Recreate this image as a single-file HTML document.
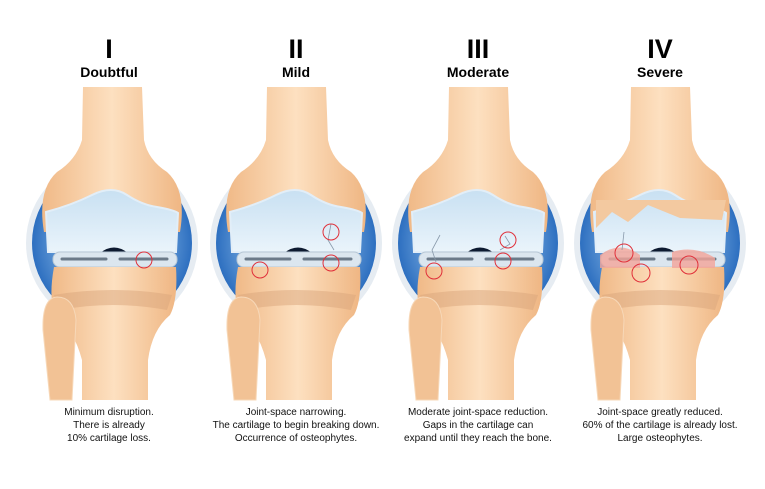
<!DOCTYPE html>
<html><head><meta charset="utf-8"><style>
body{margin:0;background:#fff;width:765px;height:489px;overflow:hidden;font-family:"Liberation Sans",sans-serif}
svg{position:absolute;left:0;top:0}
</style></head><body>
<svg width="765" height="489" viewBox="0 0 765 489">
<defs>
<radialGradient id="blue" cx="0.5" cy="0.5" r="0.5"><stop offset="0.6" stop-color="#6ea3db"/><stop offset="1" stop-color="#2d6fc0"/></radialGradient>
<linearGradient id="bone" x1="0" x2="1"><stop offset="0" stop-color="#f0b987"/><stop offset="0.5" stop-color="#fde0c0"/><stop offset="1" stop-color="#efb683"/></linearGradient>
<linearGradient id="cart" x1="0" y1="0" x2="0" y2="1"><stop offset="0" stop-color="#c8e0f2"/><stop offset="1" stop-color="#eaf4fb"/></linearGradient>
<g id="knee">
<circle cx="0" cy="243" r="86" fill="#e6ecf2"/>
<circle cx="0" cy="243" r="80" fill="url(#blue)"/>
<path d="M-29,87 L30,87 L32,140 Q36,160 55,172 Q75,190 68,232 L-68,232 Q-75,190 -55,172 Q-36,160 -30,140 Z" fill="url(#bone)"/>
<path d="M-66,212 Q-40,205 -20,195 Q0,185 15,195 Q30,205 45,207 Q62,210 66,213 L64,252 L-64,252 Z" fill="url(#cart)" stroke="#e2eef8" stroke-width="2"/>
<path d="M-12,253 Q2,242 16,253 Z" fill="#0d1a30"/>
<rect x="-59" y="252" width="124" height="15" rx="7" fill="#dbe6ef" stroke="#b8c8d6"/>
<path d="M-50,259 L-6,259 M8,259 L55,259" stroke="#6b7a89" stroke-width="3" stroke-linecap="round"/>
<path d="M-58,267 L64,267 Q66,300 58,315 Q40,330 36,360 L36,400 L-30,400 L-30,360 Q-38,330 -56,315 Q-64,300 -58,267 Z" fill="url(#bone)"/>
<path d="M-58,295 Q0,285 60,295 L55,310 Q0,300 -52,310 Z" fill="#d9a67c" opacity="0.5"/>
<path d="M-69,330 Q-70,298 -55,297 Q-38,297 -36,320 L-40,400 L-62,400 Z" fill="#f2c295" stroke="#f7d8b8"/>
</g>
</defs>
<g font-family="Liberation Sans,sans-serif" font-weight="bold" text-anchor="middle" fill="#000">
<text x="109" y="58" font-size="27">I</text><text x="109" y="77" font-size="14">Doubtful</text>
<text x="296" y="58" font-size="27">II</text><text x="296" y="77" font-size="14">Mild</text>
<text x="478" y="58" font-size="27">III</text><text x="478" y="77" font-size="14">Moderate</text>
<text x="660" y="58" font-size="27">IV</text><text x="660" y="77" font-size="14">Severe</text>
</g>
<use href="#knee" x="112"/>
<use href="#knee" x="296"/>
<use href="#knee" x="478"/>
<use href="#knee" x="660"/>
<g fill="#f4a59a" opacity="0.8">
<path d="M600,255 Q620,240 640,255 L640,268 L600,268 Z"/><path d="M672,252 Q695,245 715,258 L715,268 L672,268 Z"/>
</g>
<path d="M596,228 L612,212 L628,222 L648,205 L680,218 L722,220 L726,200 L596,200 Z" fill="#f3c9a0"/>
<g fill="none" stroke="#8899aa" stroke-width="0.8">
<path d="M331,224 L328,240 L334,250"/><path d="M505,236 L510,244 L500,250"/><path d="M440,235 L432,250 L436,262"/><path d="M624,232 L622,250"/>
</g>
<g fill="none" stroke="#e0303a" stroke-width="1">
<circle cx="144" cy="260" r="8"/>
<circle cx="331" cy="232" r="8"/><circle cx="331" cy="263" r="8"/><circle cx="260" cy="270" r="8"/>
<circle cx="508" cy="240" r="8"/><circle cx="503" cy="261" r="8"/><circle cx="434" cy="271" r="8"/>
<circle cx="624" cy="253" r="9"/><circle cx="641" cy="273" r="9"/><circle cx="689" cy="265" r="9"/>
</g>
<g font-size="10" text-anchor="middle" fill="#111">
<text x="109" y="415">Minimum disruption.</text><text x="109" y="428">There is already</text><text x="109" y="441">10% cartilage loss.</text>
<text x="296" y="415">Joint-space narrowing.</text><text x="296" y="428">The cartilage to begin breaking down.</text><text x="296" y="441">Occurrence of osteophytes.</text>
<text x="478" y="415">Moderate joint-space reduction.</text><text x="478" y="428">Gaps in the cartilage can</text><text x="478" y="441">expand until they reach the bone.</text>
<text x="660" y="415">Joint-space greatly reduced.</text><text x="660" y="428">60% of the cartilage is already lost.</text><text x="660" y="441">Large osteophytes.</text>
</g>
</svg>
</body></html>
